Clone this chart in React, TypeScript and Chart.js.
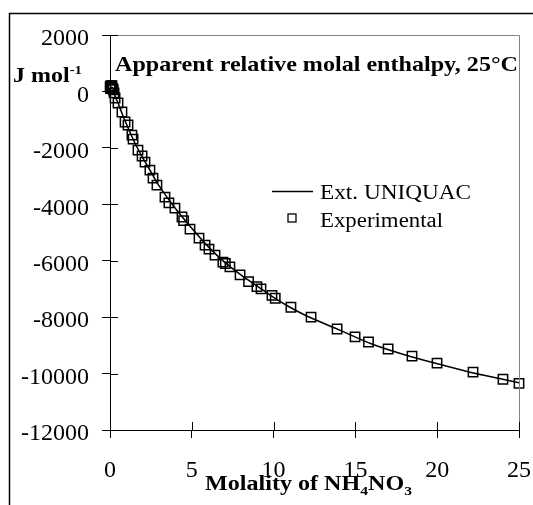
import React, { useEffect, useRef } from "react";
import { Chart, registerables } from "chart.js";

Chart.register(...registerables);

const curveM = [0, 0.05, 0.1, 0.2, 0.3, 0.5, 0.75, 1, 1.5, 2, 2.5, 3, 4, 5, 6, 7, 8, 9, 10, 11, 12, 14, 16, 18, 20, 22, 24, 25];
const curveH = [0, 120, 150, 100, -150, -420, -800, -1150, -1800, -2350, -2850, -3350, -4150, -4850, -5500, -6050, -6500, -6900, -7300, -7650, -7950, -8450, -8950, -9330, -9650, -9950, -10200, -10330];

const expM = [0.01, 0.02, 0.03, 0.05, 0.07, 0.1, 0.12, 0.15, 0.2, 0.25,
  0.31, 0.49, 0.73, 0.92, 1.1, 1.34, 1.41, 1.71, 1.96, 2.14,
  2.44, 2.63, 2.87, 3.36, 3.6, 3.97, 4.4, 4.5, 4.89, 5.44,
  5.81, 6.05, 6.42, 6.9, 7.05, 7.33, 7.95, 8.47, 8.98, 9.23,
  9.9, 10.1, 11.06, 12.29, 13.88, 14.98, 15.8, 17.0, 18.46, 19.99,
  22.19, 24.02, 25.0];
const expH = [150, 180, 100, 200, 190, 160, 200, 120, 60, -50,
  -234, -411, -730, -1085, -1190, -1546, -1688, -2078, -2290, -2504,
  -2787, -3071, -3319, -3745, -3950, -4135, -4450, -4580, -4880, -5200,
  -5447, -5589, -5800, -6050, -6100, -6220, -6500, -6740, -6920, -7000,
  -7230, -7330, -7650, -8000, -8420, -8700, -8880, -9130, -9380, -9630,
  -9950, -10200, -10350];

const xTicks = [0, 5, 10, 15, 20, 25];
const yTicks = [2000, 0, -2000, -4000, -6000, -8000, -10000, -12000];

const titleText = "Apparent relative molal enthalpy, 25°C";
const curveLabel = "Ext. UNIQUAC";
const expLabel = "Experimental";

const SERIF = '"Liberation Serif", "Times New Roman", serif';

type Run = { text: string; font: string; dy?: number };

function drawRuns(ctx: CanvasRenderingContext2D, runs: Run[], x: number, y: number, width: number) {
  ctx.save();
  let total = 0;
  for (const r of runs) {
    ctx.font = r.font;
    total += ctx.measureText(r.text).width;
  }
  const sx = width / total;
  ctx.translate(x, y);
  ctx.scale(sx, 1);
  ctx.fillStyle = "#000";
  ctx.textBaseline = "alphabetic";
  ctx.textAlign = "left";
  let cx = 0;
  for (const r of runs) {
    ctx.font = r.font;
    ctx.fillText(r.text, cx, r.dy || 0);
    cx += ctx.measureText(r.text).width;
  }
  ctx.restore();
}

const decorPlugin = {
  id: "decor",
  afterDraw(chart: any) {
    const ctx: CanvasRenderingContext2D = chart.ctx;
    const { left, right, top, bottom } = chart.chartArea;
    const xs = chart.scales.x;
    const ys = chart.scales.y;
    ctx.save();
    ctx.strokeStyle = "#000";
    ctx.lineWidth = 1.5;
    ctx.beginPath();
    ctx.moveTo(9.5, 505);
    ctx.lineTo(9.5, 13.5);
    ctx.lineTo(533, 13.5);
    ctx.stroke();
    ctx.strokeStyle = "#808080";
    ctx.lineWidth = 1;
    ctx.beginPath();
    ctx.moveTo(left, top + 0.5);
    ctx.lineTo(right + 0.5, top + 0.5);
    ctx.lineTo(right + 0.5, bottom);
    ctx.stroke();
    ctx.strokeStyle = "#000";
    ctx.lineWidth = 1;
    ctx.beginPath();
    for (const v of yTicks) {
      const py = Math.round(ys.getPixelForValue(v)) + 0.5;
      ctx.moveTo(left, py);
      ctx.lineTo(left + 8, py);
    }
    for (const v of xTicks) {
      const px = Math.round(xs.getPixelForValue(v)) + 0.5;
      ctx.moveTo(px, bottom);
      ctx.lineTo(px, bottom - 8);
    }
    ctx.stroke();
    drawRuns(ctx, [{ text: titleText, font: `bold 21px ${SERIF}` }], 115, 71, 403);
    drawRuns(ctx, [
      { text: "J mol", font: `bold 21px ${SERIF}` },
      { text: "-1", font: `bold 13px ${SERIF}`, dy: -8 },
    ], 13, 82, 69);
    drawRuns(ctx, [
      { text: "Molality of NH", font: `bold 20px ${SERIF}` },
      { text: "4", font: `bold 13px ${SERIF}`, dy: 5 },
      { text: "NO", font: `bold 20px ${SERIF}` },
      { text: "3", font: `bold 13px ${SERIF}`, dy: 5 },
    ], 205, 490, 207);
    ctx.strokeStyle = "#000";
    ctx.lineWidth = 1.5;
    ctx.beginPath();
    ctx.moveTo(272, 191.5);
    ctx.lineTo(313, 191.5);
    ctx.stroke();
    ctx.lineWidth = 1.3;
    ctx.strokeRect(288, 214, 8, 8);
    drawRuns(ctx, [{ text: curveLabel, font: `20px ${SERIF}` }], 320, 199, 151);
    drawRuns(ctx, [{ text: expLabel, font: `20px ${SERIF}` }], 320, 227, 123);
    ctx.restore();
  },
};

export default function App() {
  const ref = useRef<HTMLCanvasElement | null>(null);
  useEffect(() => {
    if (!ref.current) return;
    const chart = new Chart(ref.current, {
      type: "scatter",
      data: {
        datasets: [
          {
            label: curveLabel,
            data: curveM.map((m, i) => ({ x: m, y: curveH[i] })),
            showLine: true,
            borderColor: "#000",
            borderWidth: 1.5,
            pointRadius: 0,
            tension: 0.3,
            fill: false,
          },
          {
            label: expLabel,
            data: expM.map((m, i) => ({ x: m, y: expH[i] })),
            showLine: false,
            pointStyle: "rect",
            pointRadius: 6.6,
            pointBorderWidth: 1.5,
            pointBorderColor: "#000",
            pointBackgroundColor: "rgba(0,0,0,0)",
            clip: false,
          } as any,
        ],
      },
      options: {
        animation: false,
        responsive: false,
        layout: { padding: { left: 0, right: 14, top: 35, bottom: 0 } },
        plugins: { legend: { display: false }, tooltip: { enabled: false } },
        scales: {
          x: {
            type: "linear",
            min: 0,
            max: 25,
            afterFit: (s: any) => { s.height = 75; s.paddingLeft = 0; s.paddingRight = 0; },
            afterBuildTicks: (s: any) => { s.ticks = xTicks.map((v) => ({ value: v })); },
            grid: { display: true, drawOnChartArea: false, drawTicks: true, tickLength: 8, color: "#000", lineWidth: 1 },
            border: { display: true, color: "#000", width: 1 },
            ticks: {
              color: "#000",
              font: { family: SERIF, size: 24 },
              padding: 18,
              maxRotation: 0,
              callback: (v: any) => String(v),
            },
          },
          y: {
            type: "linear",
            min: -12000,
            max: 2000,
            afterFit: (s: any) => { s.width = 110; s.paddingTop = 0; s.paddingBottom = 0; },
            afterBuildTicks: (s: any) => { s.ticks = yTicks.map((v) => ({ value: v })); },
            grid: { display: true, drawOnChartArea: false, drawTicks: true, tickLength: 8, color: "#000", lineWidth: 1 },
            border: { display: true, color: "#000", width: 1 },
            ticks: {
              color: "#000",
              font: { family: SERIF, size: 24 },
              padding: 13,
              labelOffset: 4,
              callback: (v: any) => String(v),
            },
          },
        },
      },
      plugins: [decorPlugin],
    });
    return () => chart.destroy();
  }, []);
  return (
    <div style={{ position: "absolute", left: 0, top: 0, width: 533, height: 505, background: "#fff" }}>
      <canvas ref={ref} width={533} height={505} style={{ width: 533, height: 505 }} />
    </div>
  );
}
